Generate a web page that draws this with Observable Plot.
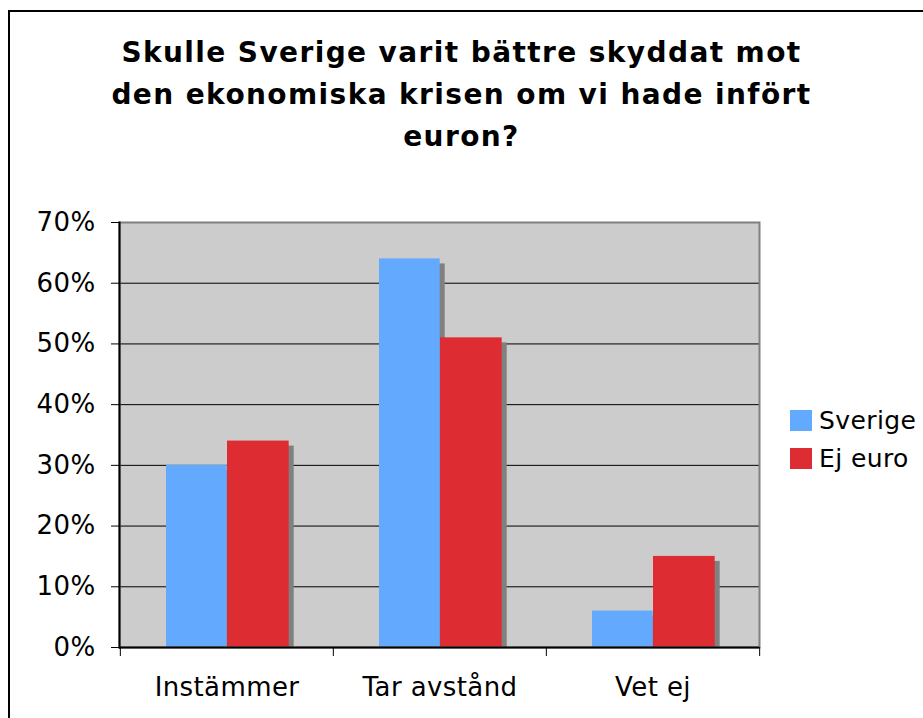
<!DOCTYPE html>
<html>
<head>
<meta charset="utf-8">
<script src="https://cdn.jsdelivr.net/npm/d3@7"></script>
<script src="https://cdn.jsdelivr.net/npm/@observablehq/plot@0.6"></script>
<style>
  html, body { margin: 0; padding: 0; background: #ffffff; overflow: hidden; }
  #page { position: relative; width: 923px; height: 718px; overflow: hidden; font-family: "DejaVu Sans", Verdana, sans-serif; }
  #border { position: absolute; left: 8px; top: 10px; width: 1200px; height: 1200px; border: 2px solid #000; box-sizing: border-box; }
  #title { position: absolute; left: 0; width: 923px; top: 32px; text-align: center; font-weight: bold; font-size: 28px; letter-spacing: 1.4px; line-height: 42px; color: #000; }
  #chart { position: absolute; left: 0; top: 0; }
  #legend { position: absolute; left: 790px; top: 401px; font-size: 25px; letter-spacing: 0.4px; color: #000; }
  .item { display: flex; align-items: center; height: 38px; }
  .sw { width: 22px; height: 21px; margin-right: 7px; }
</style>
</head>
<body>
<div id="page">
  <div id="border"></div>
  <div id="title">
    <div>Skulle Sverige varit bättre skyddat mot</div>
    <div>den ekonomiska krisen om vi hade infört</div>
    <div>euron?</div>
  </div>
  <div id="chart"></div>
  <div id="legend"></div>
</div>
<script>
const categories = ["Instämmer", "Tar avstånd", "Vet ej"];
const seriesNames = ["Sverige", "Ej euro"];
const sverige = [30, 64, 6];
const ejEuro = [34, 51, 15];
const colors = ["#63aaff", "#dd2d32"];
const yTicks = [0, 10, 20, 30, 40, 50, 60, 70];
const gridTicks = [10, 20, 30, 40, 50, 60];

const rows = [];
categories.forEach((c, i) => {
  rows.push({category: c, series: seriesNames[0], value: sverige[i]});
  rows.push({category: c, series: seriesNames[1], value: ejEuro[i]});
});
const rowsA = rows.filter(d => d.series === seriesNames[0]);
const rowsB = rows.filter(d => d.series === seriesNames[1]);

const plot = Plot.plot({
  width: 923,
  height: 718,
  marginLeft: 119,
  marginRight: 164,
  marginTop: 222,
  marginBottom: 71,
  style: {fontFamily: "DejaVu Sans, Verdana, sans-serif", fontSize: "26px", letterSpacing: "0.4px", background: "transparent", color: "#000"},
  x: {domain: categories, padding: 0, label: null},
  y: {domain: [0, 70], label: null},
  color: {domain: seriesNames, range: colors},
  marks: [
    Plot.frame({fill: "#cccccc", stroke: null}),
    Plot.ruleY(gridTicks, {stroke: "#000", strokeWidth: 1}),
    // shadows
    Plot.barY(rowsA, {x: "category", y: "value", fill: "#808080", insetLeft: 46, insetRight: 106.3, insetBottom: 5, dx: 5, dy: 5}),
    Plot.barY(rowsB, {x: "category", y: "value", fill: "#808080", insetLeft: 107, insetRight: 44.3, insetBottom: 5, dx: 5, dy: 5}),
    // bars
    Plot.barY(rowsA, {x: "category", y: "value", fill: "series", insetLeft: 46, insetRight: 106.3}),
    Plot.barY(rowsB, {x: "category", y: "value", fill: "series", insetLeft: 107, insetRight: 44.3}),
    Plot.frame({stroke: "#808080", strokeWidth: 2}),
    Plot.ruleY([0], {stroke: "#000", strokeWidth: 2}),
    Plot.frame({anchor: "left", stroke: "#000", strokeWidth: 2}),
    // category boundary ticks
    Plot.ruleX(categories, {x: d => d, y1: 0, y2: 0, insetBottom: -9, dx: -106.67, stroke: "#000", strokeWidth: 1}),
    Plot.ruleX(categories.slice(-1), {x: d => d, y1: 0, y2: 0, insetBottom: -9, dx: 106.67, stroke: "#000", strokeWidth: 1}),
    Plot.axisY({ticks: yTicks, tickSize: 8, tickPadding: 16, tickFormat: d => d + "%", fontSize: 26, label: null}),
    Plot.axisX({tickSize: 0, tickPadding: 30, fontSize: 26, label: null})
  ]
});
document.getElementById("chart").appendChild(plot);

const legend = document.getElementById("legend");
seriesNames.forEach((s, i) => {
  const item = document.createElement("div");
  item.className = "item";
  const sw = document.createElement("div");
  sw.className = "sw";
  sw.style.background = colors[i];
  const t = document.createElement("span");
  t.textContent = s;
  item.appendChild(sw);
  item.appendChild(t);
  legend.appendChild(item);
});
</script>
</body>
</html>
